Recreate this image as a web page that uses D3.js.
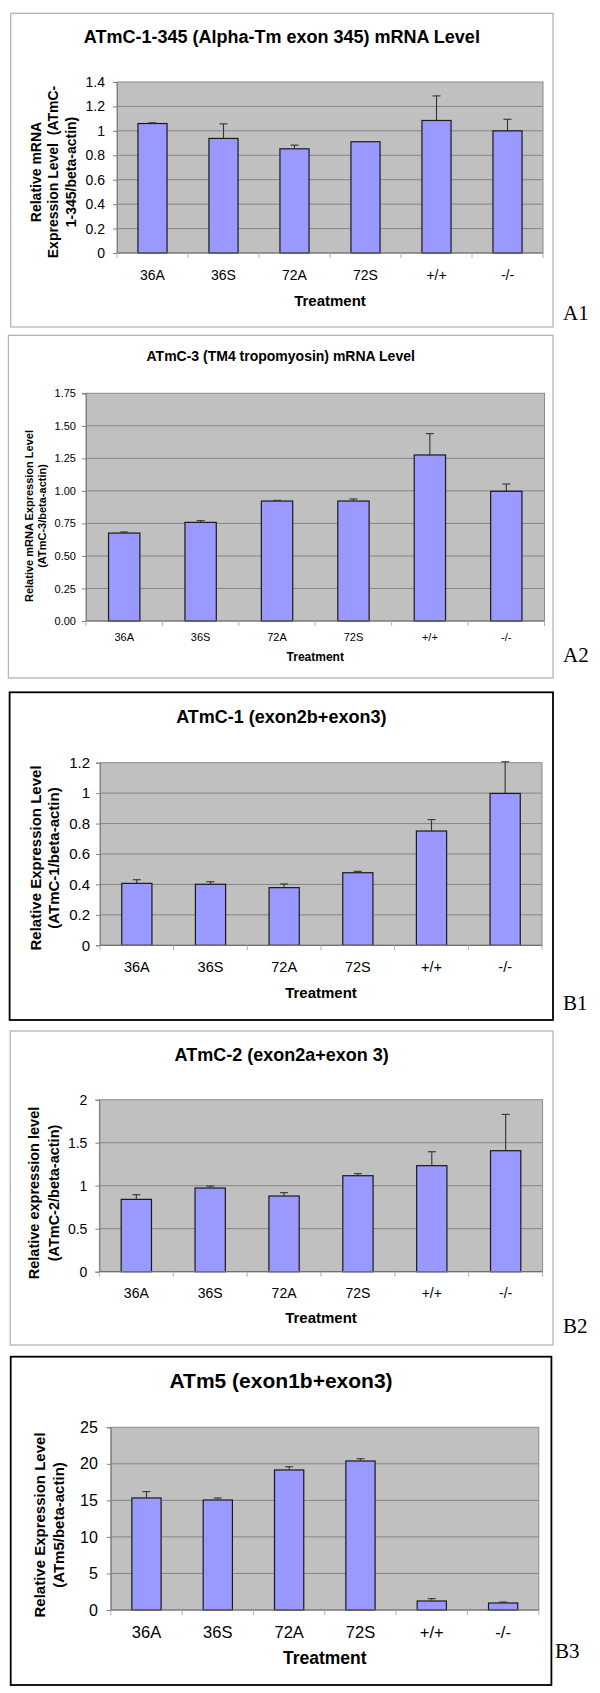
<!DOCTYPE html>
<html>
<head>
<meta charset="utf-8">
<script src="https://cdn.jsdelivr.net/npm/d3@7"></script>
<style>
  html, body { margin: 0; padding: 0; background: #fff; }
  svg { display: block; }
  text { font-family: "Liberation Sans", Arial, sans-serif; fill: #000; }
</style>
</head>
<body>
<svg id="chart" width="600" height="1693"></svg>
<script>
// ---------- data ----------
const categories = ["36A", "36S", "72A", "72S", "+/+", "-/-"];

const a1Values = [1.06, 0.938, 0.853, 0.911, 1.085, 1.0];
const a1Errors = [0.006, 0.119, 0.03, 0, 0.201, 0.095];

const a2Values = [0.676, 0.758, 0.922, 0.922, 1.276, 0.997];
const a2Errors = [0.008, 0.013, 0.005, 0.016, 0.164, 0.056];

const b1Values = [0.407, 0.401, 0.379, 0.477, 0.751, 0.998];
const b1Errors = [0.024, 0.017, 0.024, 0.009, 0.075, 0.208];

const b2Values = [0.841, 0.973, 0.880, 1.116, 1.233, 1.407];
const b2Errors = [0.054, 0.023, 0.039, 0.024, 0.162, 0.422];

const b3Values = [15.33, 15.05, 19.16, 20.39, 1.23, 0.96];
const b3Errors = [0.87, 0.28, 0.44, 0.31, 0.32, 0.13];

const a1Ticks = [0, 0.2, 0.4, 0.6, 0.8, 1, 1.2, 1.4];
const a2Ticks = [0, 0.25, 0.5, 0.75, 1, 1.25, 1.5, 1.75];
const b1Ticks = [0, 0.2, 0.4, 0.6, 0.8, 1, 1.2];
const b2Ticks = [0, 0.5, 1, 1.5, 2];
const b3Ticks = [0, 5, 10, 15, 20, 25];

const titles = [
  "ATmC-1-345 (Alpha-Tm exon 345) mRNA Level",
  "ATmC-3 (TM4 tropomyosin) mRNA Level",
  "ATmC-1 (exon2b+exon3)",
  "ATmC-2 (exon2a+exon 3)",
  "ATm5 (exon1b+exon3)"
];
const yTitles = [
  ["Relative mRNA", "Expression Level  (ATmC-", "1-345/beta-actin)"],
  ["Relative mRNA Expression Level", "(ATmC-3/beta-actin)"],
  ["Relative Expression Level", "(ATmC-1/beta-actin)"],
  ["Relative expression level", "(ATmC-2/beta-actin)"],
  ["Relative Expression Level", "(ATm5/beta-actin)"]
];
const panelLabels = ["A1", "A2", "B1", "B2", "B3"];
const xTitle = "Treatment";

// ---------- layout ----------
const panels = [
  { values: a1Values, errors: a1Errors, ticks: a1Ticks, fmt: d => String(d),
    box: [10.7, 13.3, 553, 327], boxColor: "#b4b4b4", boxWidth: 1.3,
    plot: [117, 82, 543, 253], titleY: 37, titleSize: 18,
    tickSize: 14, tickGap: 12, xLabY: 275, xLabSize: 14, xTitleY: 301, xTitleSize: 15,
    yTitleX: [36, 53.5, 70.7], yTitleY: 172, yTitleSize: 14,
    labelX: 563, labelY: 320 },
  { values: a2Values, errors: a2Errors, ticks: a2Ticks, fmt: d3.format(".2f"),
    box: [8.4, 335.3, 553, 678], boxColor: "#b4b4b4", boxWidth: 1.3,
    plot: [86, 393.3, 544.5, 621], titleY: 356, titleSize: 14,
    tickSize: 11, tickGap: 10, xLabY: 637, xLabSize: 11, xTitleY: 657, xTitleSize: 12,
    yTitleX: [28.7, 42], yTitleY: 516, yTitleSize: 11,
    labelX: 563, labelY: 662 },
  { values: b1Values, errors: b1Errors, ticks: b1Ticks, fmt: d => String(d),
    box: [9.6, 692.3, 553, 1020], boxColor: "#000", boxWidth: 1.8,
    plot: [100, 762.7, 542, 945.3], titleY: 717, titleSize: 18,
    tickSize: 15, tickGap: 10, xLabY: 967, xLabSize: 14.5, xTitleY: 993, xTitleSize: 15,
    yTitleX: [35.5, 53.5], yTitleY: 858, yTitleSize: 15,
    labelX: 563, labelY: 1010 },
  { values: b2Values, errors: b2Errors, ticks: b2Ticks, fmt: d => String(d),
    box: [10.3, 1031, 553, 1345], boxColor: "#b4b4b4", boxWidth: 1.3,
    plot: [99.4, 1099.7, 542.6, 1271.7], titleY: 1055, titleSize: 18,
    tickSize: 14, tickGap: 12, xLabY: 1292.7, xLabSize: 14, xTitleY: 1318, xTitleSize: 15,
    yTitleX: [34.4, 53.5], yTitleY: 1193, yTitleSize: 14.5,
    labelX: 563, labelY: 1333 },
  { values: b3Values, errors: b3Errors, ticks: b3Ticks, fmt: d => String(d),
    box: [10.7, 1356.7, 551.4, 1685], boxColor: "#000", boxWidth: 1.8,
    plot: [110.8, 1427.3, 538.8, 1610], titleY: 1381, titleSize: 21,
    tickSize: 16, tickGap: 13, xLabY: 1632, xLabSize: 16.5, xTitleY: 1658, xTitleSize: 17.5,
    yTitleX: [40, 59], yTitleY: 1525, yTitleSize: 15,
    labelX: 555, labelY: 1658 }
];

const svg = d3.select("#chart");
svg.append("rect").attr("width", 600).attr("height", 1693).attr("fill", "#fff");

panels.forEach((p, i) => {
  const g = svg.append("g");
  const [bx0, by0, bx1, by1] = p.box;
  g.append("rect")
    .attr("x", bx0).attr("y", by0)
    .attr("width", bx1 - bx0).attr("height", by1 - by0)
    .attr("fill", "#fff").attr("stroke", p.boxColor).attr("stroke-width", p.boxWidth);

  const [px0, py0, px1, py1] = p.plot;
  const x = d3.scaleBand().domain(categories).range([px0, px1]).paddingInner(0).paddingOuter(0);
  const yMax = p.ticks[p.ticks.length - 1];
  const y = d3.scaleLinear().domain([0, yMax]).range([py1, py0]);

  // plot background
  g.append("rect").attr("x", px0).attr("y", py0)
    .attr("width", px1 - px0).attr("height", py1 - py0)
    .attr("fill", "#c0c0c0").attr("stroke", "#8a8a8a").attr("stroke-width", 1);

  // gridlines
  g.append("g").selectAll("line").data(p.ticks.filter(t => t > 0 && t < yMax)).join("line")
    .attr("x1", px0).attr("x2", px1)
    .attr("y1", d => y(d)).attr("y2", d => y(d))
    .attr("stroke", "#858585").attr("stroke-width", 1);

  // y axis
  const yAxis = g.append("g").attr("transform", `translate(${px0},0)`)
    .call(d3.axisLeft(y).tickValues(p.ticks).tickFormat(p.fmt).tickSize(4).tickPadding(p.tickGap - 4));
  yAxis.select(".domain").attr("stroke", "#808080");
  yAxis.selectAll(".tick line").attr("stroke", "#808080");
  yAxis.selectAll(".tick text").attr("font-size", p.tickSize)
    .attr("font-family", "Liberation Sans, Arial, sans-serif").attr("fill", "#000");

  // bars
  const bw = x.bandwidth() * 0.41;
  g.append("g").selectAll("rect").data(p.values).join("rect")
    .attr("x", (d, j) => x(categories[j]) + (x.bandwidth() - bw) / 2)
    .attr("y", d => y(d))
    .attr("width", bw)
    .attr("height", d => y(0) - y(d))
    .attr("fill", "#9999ff").attr("stroke", "#1a1a1a").attr("stroke-width", 1.2);

  // error bars (upper only)
  const eg = g.append("g").attr("stroke", "#333").attr("stroke-width", 1.1);
  p.values.forEach((v, j) => {
    if (!(p.errors[j] > 0)) return;
    const cx = x(categories[j]) + x.bandwidth() / 2;
    const top = v + p.errors[j];
    eg.append("line").attr("x1", cx).attr("x2", cx).attr("y1", y(v)).attr("y2", y(top));
    eg.append("line").attr("x1", cx - 4).attr("x2", cx + 4).attr("y1", y(top)).attr("y2", y(top));
  });

  // x axis line and boundary ticks
  g.append("line").attr("x1", px0).attr("x2", px1).attr("y1", py1).attr("y2", py1)
    .attr("stroke", "#707070").attr("stroke-width", 1.2);
  const bounds = categories.map(c => x(c)).concat([px1]);
  g.append("g").selectAll("line").data(bounds).join("line")
    .attr("x1", d => d).attr("x2", d => d).attr("y1", py1).attr("y2", py1 + 5)
    .attr("stroke", "#b0b0b0").attr("stroke-width", 1);

  // x labels
  g.append("g").selectAll("text").data(categories).join("text")
    .attr("x", d => x(d) + x.bandwidth() / 2)
    .attr("y", p.xLabY).attr("dy", "0.35em")
    .attr("text-anchor", "middle").attr("font-size", p.xLabSize)
    .text(d => d);

  // x title
  g.append("text").attr("x", (px0 + px1) / 2).attr("y", p.xTitleY).attr("dy", "0.35em")
    .attr("text-anchor", "middle").attr("font-size", p.xTitleSize).attr("font-weight", "bold")
    .text(xTitle);

  // chart title
  g.append("text").attr("x", (bx0 + bx1) / 2).attr("y", p.titleY).attr("dy", "0.35em")
    .attr("text-anchor", "middle").attr("font-size", p.titleSize).attr("font-weight", "bold")
    .text(titles[i]);

  // y title lines (rotated)
  yTitles[i].forEach((line, k) => {
    g.append("text")
      .attr("transform", `translate(${p.yTitleX[k]},${p.yTitleY}) rotate(-90)`)
      .attr("dy", "0.35em")
      .attr("text-anchor", "middle").attr("font-size", p.yTitleSize).attr("font-weight", "bold")
      .attr("xml:space", "preserve")
      .style("white-space", "pre")
      .text(line);
  });

  // panel label
  g.append("text").attr("x", p.labelX).attr("y", p.labelY)
    .style("font-family", "'Liberation Serif', 'Times New Roman', serif")
    .attr("font-size", 21).text(panelLabels[i]);
});
</script>
</body>
</html>
